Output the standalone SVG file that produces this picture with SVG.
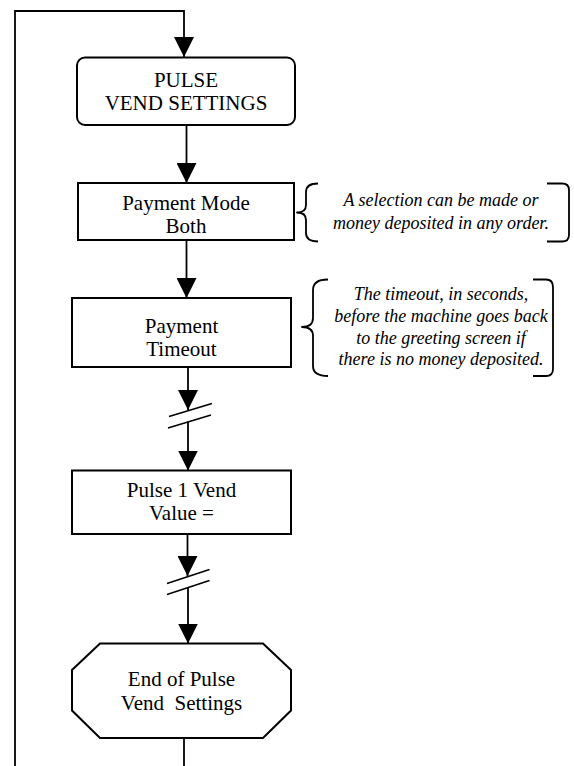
<svg xmlns="http://www.w3.org/2000/svg" width="574" height="766" viewBox="0 0 574 766">
  <style>
    .box { fill: #ffffff; stroke: #000000; stroke-width: 2; }
    .wire { fill: none; stroke: #000000; stroke-width: 1.8; }
    .brk { fill: none; stroke: #000000; stroke-width: 1.6; }
    .brace { fill: none; stroke: #000000; stroke-width: 1.8; stroke-linejoin: round; }
    .pre { white-space: pre; }
  </style>
  <defs>
    <marker id="arrow" markerWidth="20" markerHeight="20" viewBox="0 0 20 20" refX="20" refY="10" orient="auto" markerUnits="userSpaceOnUse">
      <path d="M0,0 L20,10 L0,20 Z" fill="#000000"/>
    </marker>
  </defs>
  <rect width="574" height="766" fill="#ffffff"/>

  <!-- connectors -->
  <g id="connectors">
    <!-- loop back to the top -->
    <path class="wire" d="M15,766 L15,11 L184,11 L184,57" marker-end="url(#arrow)"/>
    <path class="wire" d="M186.5,125 L186.5,183" marker-end="url(#arrow)"/>
    <path class="wire" d="M186.5,240 L186.5,298" marker-end="url(#arrow)"/>
    <!-- broken flow after Payment Timeout -->
    <path class="wire" d="M188,367 L188,410" marker-end="url(#arrow)"/>
    <path class="brk" d="M169,416.5 L212,403.5"/>
    <path class="brk" d="M168,428 L211,415"/>
    <path class="wire" d="M188,421.5 L188,470.5" marker-end="url(#arrow)"/>
    <!-- broken flow after Pulse 1 Vend Value -->
    <path class="wire" d="M187.5,534 L187.5,576" marker-end="url(#arrow)"/>
    <path class="brk" d="M167,583.5 L209.5,569.5"/>
    <path class="brk" d="M167,594.5 L209.5,580.5"/>
    <path class="wire" d="M188,588 L188,643.5" marker-end="url(#arrow)"/>
    <path class="wire" d="M184,738 L184,766"/>
  </g>

  <g font-family="Liberation Serif, Times New Roman, Times, serif" fill="#000000" text-anchor="middle">
    <g id="pulse-vend-settings" font-size="21">
      <rect class="box" x="77" y="57.5" width="218" height="67.5" rx="8" ry="8"/>
      <text x="186" y="87">PULSE</text>
      <text x="186" y="110">VEND SETTINGS</text>
    </g>

    <g id="payment-mode" font-size="21">
      <rect class="box" x="78" y="183" width="216" height="57"/>
      <text x="186" y="210">Payment Mode</text>
      <text x="186" y="233">Both</text>
    </g>

    <g id="payment-mode-note" font-size="18" font-style="italic">
      <path class="brace" d="M318,183.5 Q306,183.5 306,192 L306,205 Q306,212.5 297,212.5 Q306,212.5 306,220 L306,233 Q306,241.5 318,241.5"/>
      <path class="brace" d="M547,183.5 L562,183.5 Q569,183.5 569,190 L569,235 Q569,241.5 562,241.5 L547,241.5"/>
      <text x="441" y="206">A selection can be made or</text>
      <text x="441" y="229">money deposited in any order.</text>
    </g>

    <g id="payment-timeout" font-size="21">
      <rect class="box" x="72" y="298" width="219" height="69"/>
      <text x="181.5" y="333">Payment</text>
      <text x="181.5" y="356">Timeout</text>
    </g>

    <g id="payment-timeout-note" font-size="18" font-style="italic">
      <path class="brace" d="M328,279.5 Q313,279.5 313,290 L313,318 Q313,327 302,327 Q313,327 313,336 L313,366 Q313,376 328,376"/>
      <path class="brace" d="M533,279.5 L546,279.5 Q553,279.5 553,287 L553,369 Q553,376 546,376 L533,376"/>
      <text x="441" y="300">The timeout, in seconds,</text>
      <text x="441" y="322">before the machine goes back</text>
      <text x="441" y="344">to the greeting screen if</text>
      <text x="441" y="365">there is no money deposited.</text>
    </g>

    <g id="pulse-1-vend-value" font-size="21">
      <rect class="box" x="72" y="470.5" width="219" height="63.5"/>
      <text x="181.5" y="497">Pulse 1 Vend</text>
      <text x="181.5" y="520">Value =</text>
    </g>

    <g id="end-of-pulse-vend-settings" font-size="21">
      <path class="box" d="M100,643.5 L263,643.5 L291,670 L291,710.5 L263,738 L100,738 L72,710.5 L72,670 Z"/>
      <text x="181.5" y="686">End of Pulse</text>
      <text class="pre" x="181.5" y="710">Vend  Settings</text>
    </g>
  </g>
</svg>
